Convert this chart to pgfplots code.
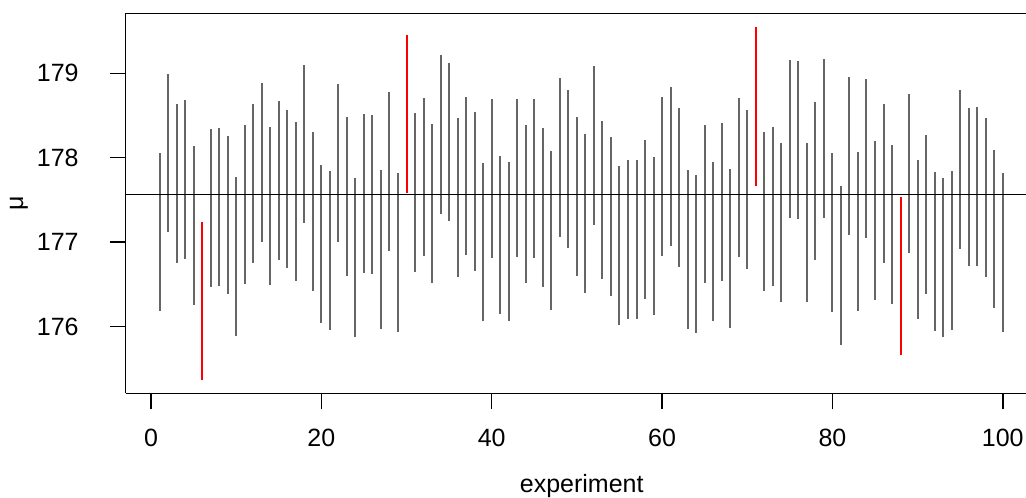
\documentclass[border=0pt]{standalone}
\usepackage{fontspec}
\setmainfont{Liberation Sans}
\usepackage{pgfplots}
\usepackage{pgfplotstable}
\pgfplotsset{compat=1.18}
\usetikzlibrary{calc}
\definecolor{cigray}{HTML}{666666}

% 95% intervals that cover mu
\pgfplotstableread{
x lo hi
1 176.182 178.055
2 177.119 178.996
3 176.755 178.632
4 176.802 178.680
5 176.261 178.134
7 176.466 178.344
8 176.478 178.352
9 176.387 178.261
10 175.893 177.767
11 176.506 178.383
12 176.755 178.636
13 177.004 178.881
14 176.494 178.368
15 176.791 178.668
16 176.688 178.561
17 176.542 178.419
18 177.225 179.103
19 176.423 178.300
20 176.040 177.917
21 175.960 177.838
22 177.000 178.877
23 176.601 178.478
24 175.877 177.755
25 176.636 178.518
26 176.625 178.502
27 175.968 177.850
28 176.901 178.779
29 175.937 177.814
31 176.648 178.526
32 176.834 178.711
33 176.518 178.395
34 177.336 179.213
35 177.249 179.126
36 176.589 178.470
37 176.846 178.719
38 176.660 178.538
39 176.063 177.941
40 176.810 178.692
41 176.146 178.024
42 176.067 177.945
43 176.822 178.700
44 176.514 178.391
45 176.814 178.692
46 176.470 178.348
47 176.198 178.079
48 177.063 178.941
49 176.929 178.806
50 176.605 178.482
51 176.399 178.277
52 177.206 179.083
53 176.561 178.439
54 176.364 178.241
55 176.020 177.897
56 176.091 177.968
57 176.091 177.968
58 176.328 178.206
59 176.134 178.012
60 176.838 178.715
61 176.957 178.834
62 176.704 178.585
63 175.972 177.854
64 175.921 177.798
65 176.514 178.391
66 176.067 177.945
67 176.534 178.415
68 175.984 177.862
69 176.830 178.708
70 176.684 178.561
72 176.419 178.300
73 176.486 178.364
74 176.292 178.170
75 177.281 179.158
76 177.269 179.146
77 176.296 178.174
78 176.783 178.660
79 177.289 179.166
80 176.178 178.055
81 175.783 177.660
82 177.079 178.957
83 176.186 178.063
84 177.047 178.929
85 176.312 178.194
86 176.755 178.636
87 176.269 178.146
89 176.870 178.751
90 176.091 177.972
91 176.387 178.265
92 175.953 177.830
93 175.877 177.755
94 175.964 177.842
95 176.921 178.798
96 176.715 178.593
97 176.723 178.601
98 176.589 178.466
99 176.217 178.095
100 175.941 177.818
}\covering

% intervals that miss mu
\pgfplotstableread{
x lo hi
6 175.364 177.241
30 177.580 179.451
71 177.668 179.545
88 175.660 177.538
}\missing

\begin{document}
\begin{tikzpicture}
\begin{axis}[
    name=ax,
    scale only axis,
    width=450.15pt, height=190pt,
    xmin=-2.97, xmax=102.73,
    ymin=175.21, ymax=179.71,
    axis x line=box, axis y line=left,
    axis line style={-, line width=0.75pt, black},
    xtick={0,20,...,100}, ytick={176,177,178,179},
    xtick pos=left, ytick pos=left,
    tick align=outside, major tick length=8pt,
    every tick/.style={black, line width=0.75pt},
    minor tick num=0,
    /pgf/number format/assume math mode=true,
    /pgf/number format/1000 sep={},
    tick label style={font=\fontsize{12.5}{15}\selectfont},
    xticklabel style={anchor=center, yshift=-14.5pt},
    yticklabel style={anchor=east, xshift=-12pt},
    xlabel={experiment}, ylabel={μ},
    every axis x label/.style={at={(axis description cs:0.5065,-0.262)}, anchor=base,
        font=\fontsize{12.5}{15}\selectfont},
    every axis y label/.style={at={(axis description cs:-0.1185,0.5)}, anchor=center, rotate=90,
        font=\fontsize{12.5}{15}\selectfont},
    clip=true,
]
\addplot[draw=none, mark=none,
    error bars/.cd, y dir=plus, y explicit, error mark=none,
    error bar style={draw=cigray, line width=1pt}]
    table[x=x, y=lo, y error expr=\thisrow{hi}-\thisrow{lo}] {\covering};
\addplot[draw=none, mark=none,
    error bars/.cd, y dir=plus, y explicit, error mark=none,
    error bar style={draw=red, line width=1pt}]
    table[x=x, y=lo, y error expr=\thisrow{hi}-\thisrow{lo}] {\missing};
\addplot[black, line width=0.75pt] coordinates {(-5,177.567) (110,177.567)};
\end{axis}
\pgfresetboundingbox
\path ($(ax.south west)+(-62.85pt,-51.85pt)$) rectangle ($(ax.south west)+(450.15pt,196.65pt)$);
\end{tikzpicture}
\end{document}
